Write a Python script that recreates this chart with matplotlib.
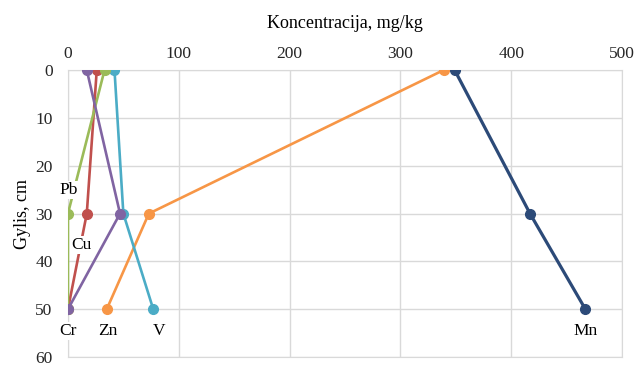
import matplotlib
matplotlib.use('Agg')
import matplotlib.pyplot as plt

plt.rcParams['font.family'] = ['Liberation Serif', 'DejaVu Serif']

depth = [0, 30, 50]
mn = [349, 417, 467]
zn = [339, 73, 35]
v = [42, 50, 77]
cr = [17, 47, 0]
cu = [26, 17, 0]
pb = [33, 0, 0]

series = [
    ('Mn', mn, '#2C4A78'),
    ('Zn', zn, '#F79646'),
    ('V', v, '#4BACC6'),
    ('Cu', cu, '#C0504D'),
    ('Pb', pb, '#9BBB59'),
    ('Cr', cr, '#8064A2'),
]

# label positions (x, depth)
labels = {'Pb': (1, 25), 'Cu': (12, 36.5), 'Cr': (0, 54.5), 'Zn': (36, 54.5),
          'V': (82, 54.5), 'Mn': (467, 54.5)}

fig = plt.figure(figsize=(6.35, 3.67), dpi=100)
ax = fig.add_axes([0.107, 0.027, 0.8725, 0.782])

for name, vals, col in series:
    lw = 2.3 if name == 'Mn' else 1.9
    ax.plot(vals, depth, color=col, lw=lw, marker='o', markersize=7, zorder=3)

for name, (x, y) in labels.items():
    ax.text(x, y, name, ha='center', va='center', fontsize=12.5, zorder=4,
            bbox=dict(boxstyle='square,pad=0.05', fc='white', ec='none'))

ax.set_xlim(0, 500)
ax.set_ylim(60, 0)
ax.set_xticks(range(0, 501, 100))
ax.set_yticks(range(0, 61, 10))
ax.xaxis.tick_top()
ax.xaxis.set_label_position('top')
ax.tick_params(length=0, labelsize=12.5, colors='#262626')
ax.tick_params(axis='x', pad=6)
ax.tick_params(axis='y', pad=11)
ax.set_xlabel('Koncentracija, mg/kg', fontsize=13, labelpad=13)
ax.set_ylabel('Gylis, cm', fontsize=13, labelpad=3)
ax.grid(True, color='#D9D9D9', lw=1)
for s in ax.spines.values():
    s.set_color('#D9D9D9')

fig.savefig('out.png', dpi=100)
